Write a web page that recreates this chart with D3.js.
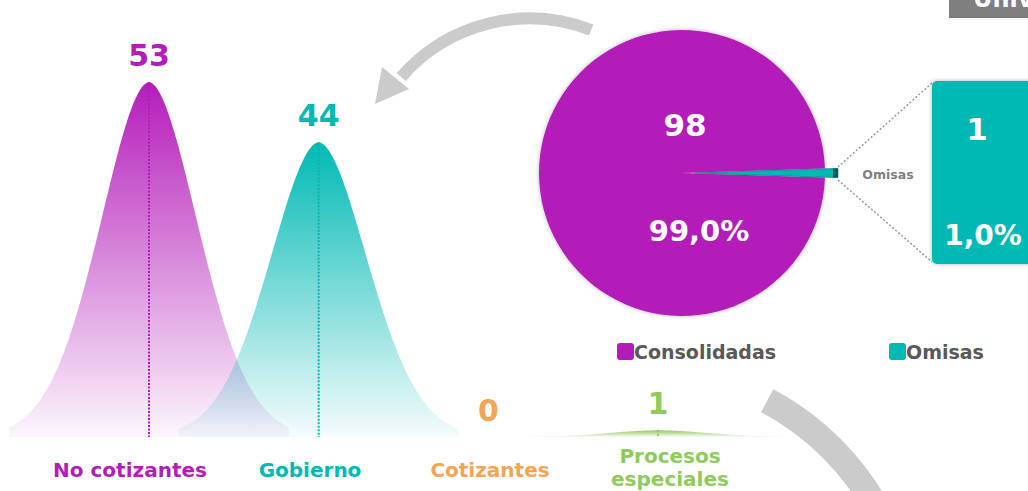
<!DOCTYPE html>
<html lang="es">
<head>
<meta charset="UTF-8">
<title>Consolidadas y omisas</title>
<script src="https://cdn.jsdelivr.net/npm/d3@7/dist/d3.min.js"></script>
<style>
    body { margin: 0; background: #fff; }
    svg { display: block; font-family: "DejaVu Sans", Verdana, sans-serif; font-weight: bold; }
</style>
</head>
<body>
<svg id="main-svg" width="1028" height="491" xmlns="http://www.w3.org/2000/svg"></svg>
<script>
'use strict';
// datos
const categories = ["No cotizantes", "Gobierno", "Cotizantes", "Procesos especiales"];
const values = [53, 44, 0, 1];
const catColors = ["#b41cba", "#00b9b4", "#f3a553", "#8fcb5c"];

const pieLabels = ["Consolidadas", "Omisas"];
const pieValues = [98, 1];
const pieColors = ["#b41cba", "#00b9b4"];

const svg = d3.select('#main-svg');
const defs = svg.append('defs');

// sombra suave
const sh = defs.append('filter').attr('id', 'shadow')
    .attr('x', '-10%').attr('y', '-10%').attr('width', '120%').attr('height', '120%');
sh.append('feDropShadow').attr('dx', 0).attr('dy', 0).attr('stdDeviation', 2)
    .attr('flood-color', '#000').attr('flood-opacity', 0.3);

// escalas
const x = d3.scalePoint().domain(categories).range([149, 658]);
const xLabel = d3.scaleBand().domain(categories).range([40, 760]);
const y = d3.scaleLinear().domain([0, 53]).range([437, 82]);

// ---- flechas grises ----
const arrowGray = '#cbcbcb';
const rad = deg => deg * Math.PI / 180;
const p1 = d3.path();
p1.arc(529.6, 188.7, 170.2, rad(-68.8), rad(-139), true);
svg.append('path').attr('d', p1.toString())
    .attr('fill', 'none').attr('stroke', arrowGray).attr('stroke-width', 12);
svg.append('path')
    .attr('d', 'M382,67 L375,104 L409,89 Z')
    .attr('fill', arrowGray);

const p2 = d3.path();
p2.arc(640, 640, 271, rad(-62), rad(-20), false);
svg.append('path').attr('d', p2.toString())
    .attr('fill', 'none').attr('stroke', arrowGray).attr('stroke-width', 26);

// ---- picos ----
const offsets = d3.range(-140, 141, 2);
const shape = dx => Math.exp(-Math.pow(Math.abs(dx) / 70, 1.85));

categories.forEach((c, i) => {
    const g = defs.append('linearGradient').attr('id', 'grad' + i)
        .attr('x1', 0).attr('y1', 0).attr('x2', 0).attr('y2', 1);
    g.append('stop').attr('offset', '0%').attr('stop-color', catColors[i]).attr('stop-opacity', 1);
    g.append('stop').attr('offset', '100%').attr('stop-color', catColors[i]).attr('stop-opacity', 0.04);
});

const peaks = svg.append('g');
categories.forEach((c, i) => {
    const v = values[i];
    if (v <= 0) return;
    const area = d3.area()
        .x(d => x(c) + d)
        .y0(y(0))
        .y1(d => y(v * shape(d)))
        .curve(d3.curveBasis);
    peaks.append('path')
        .attr('d', area(offsets))
        .attr('fill', 'url(#grad' + i + ')');
});

// líneas punteadas
peaks.selectAll('line.stem')
    .data(categories.filter((c, i) => values[i] > 0))
    .join('line')
    .attr('class', 'stem')
    .attr('x1', c => x(c)).attr('x2', c => x(c))
    .attr('y1', c => y(values[categories.indexOf(c)]))
    .attr('y2', y(0))
    .attr('stroke', c => catColors[categories.indexOf(c)])
    .attr('stroke-width', 2)
    .attr('stroke-dasharray', '2,1.5');

// valores
svg.selectAll('text.val')
    .data(categories)
    .join('text')
    .attr('class', 'val')
    .attr('x', c => x(c))
    .attr('y', (c, i) => y(values[i]) - 16)
    .attr('text-anchor', 'middle')
    .attr('font-size', 30)
    .attr('fill', (c, i) => catColors[i])
    .text((c, i) => values[i]);

// etiquetas de categoría
const labs = svg.selectAll('text.cat')
    .data(categories)
    .join('text')
    .attr('class', 'cat')
    .attr('text-anchor', 'middle')
    .attr('font-size', 20)
    .attr('fill', (c, i) => catColors[i]);
labs.each(function (c) {
    const words = c === "Procesos especiales" ? ["Procesos", "especiales"] : [c];
    const t = d3.select(this);
    words.forEach((w, k) => {
        t.append('tspan')
            .attr('x', xLabel(c) + xLabel.bandwidth() / 2)
            .attr('y', words.length > 1 ? 463 + k * 23 : 477)
            .text(w);
    });
});

// ---- pastel ----
const total = d3.sum(pieValues);
const fmtPct = v => (v / total * 100).toFixed(1).replace('.', ',') + '%';
const cx = 682, cy = 173, r = 143;
const omisasAngle = 2 * Math.PI * pieValues[1] / total;
const pie = d3.pie().sort(null)
    .startAngle(Math.PI / 2 + omisasAngle / 2)
    .endAngle(Math.PI / 2 + omisasAngle / 2 + 2 * Math.PI);
const arcs = pie(pieValues);
const arcGen = d3.arc().innerRadius(0).outerRadius(r);

const pieG = svg.append('g').attr('transform', `translate(${cx},${cy})`);
pieG.append('path')
    .attr('d', arcGen(arcs[0]))
    .attr('fill', pieColors[0])
    .attr('filter', 'url(#shadow)');

// porción omisas, desplazada
const explode = 13;
const om = pieG.append('g').attr('transform', `translate(${explode},0)`);
om.append('path')
    .attr('d', d3.arc().innerRadius(0).outerRadius(r)(arcs[1]))
    .attr('fill', pieColors[1])
    .attr('stroke', '#0d8784').attr('stroke-width', 0.8);
om.append('path')
    .attr('d', d3.arc().innerRadius(r - 5).outerRadius(r)(arcs[1]))
    .attr('fill', '#0b5a58');

pieG.append('text')
    .attr('x', 3).attr('y', -37)
    .attr('text-anchor', 'middle').attr('font-size', 31).attr('fill', '#fff')
    .text(pieValues[0]);
pieG.append('text')
    .attr('x', 17).attr('y', 68)
    .attr('text-anchor', 'middle').attr('font-size', 29).attr('fill', '#fff')
    .text(fmtPct(pieValues[0]));

// caja omisas
const box = { x: 932, y: 81, w: 110, h: 183 };
const tipX = cx + explode + r;
svg.append('line').attr('x1', tipX).attr('y1', cy - 6).attr('x2', box.x).attr('y2', box.y + 2)
    .attr('stroke', '#9a9a9a').attr('stroke-width', 1.5).attr('stroke-dasharray', '2,2');
svg.append('line').attr('x1', tipX).attr('y1', cy + 7).attr('x2', box.x).attr('y2', box.y + box.h - 2)
    .attr('stroke', '#9a9a9a').attr('stroke-width', 1.5).attr('stroke-dasharray', '2,2');
svg.append('rect')
    .attr('x', box.x).attr('y', box.y).attr('width', box.w).attr('height', box.h)
    .attr('rx', 5).attr('fill', pieColors[1])
    .attr('filter', 'url(#shadow)');
svg.append('text')
    .attr('x', 977).attr('y', 140)
    .attr('text-anchor', 'middle').attr('font-size', 31).attr('fill', '#fff')
    .text(pieValues[1]);
svg.append('text')
    .attr('x', 983).attr('y', 245)
    .attr('text-anchor', 'middle').attr('font-size', 28).attr('fill', '#fff')
    .text(fmtPct(pieValues[1]));
svg.append('text')
    .attr('x', 888).attr('y', 179)
    .attr('text-anchor', 'middle').attr('font-size', 12.5).attr('fill', '#7f7f7f')
    .text(pieLabels[1]);

// leyenda
const legX = [617, 889];
const leg = svg.selectAll('g.leg')
    .data(pieLabels)
    .join('g')
    .attr('class', 'leg')
    .attr('transform', (d, i) => `translate(${legX[i]},343)`);
leg.append('rect')
    .attr('width', 17).attr('height', 17).attr('rx', 3)
    .attr('fill', (d, i) => pieColors[i]);
leg.append('text')
    .attr('x', 17).attr('y', 16)
    .attr('font-size', 19).attr('fill', '#595959')
    .text(d => d);

// caja de título (recortada arriba)
svg.append('rect')
    .attr('x', 949).attr('y', -10).attr('width', 90).attr('height', 28)
    .attr('fill', '#7f7f7f');
svg.append('text')
    .attr('x', 973).attr('y', 7)
    .attr('font-size', 24).attr('fill', '#fff')
    .text('Universo');
</script>
</body>
</html>
